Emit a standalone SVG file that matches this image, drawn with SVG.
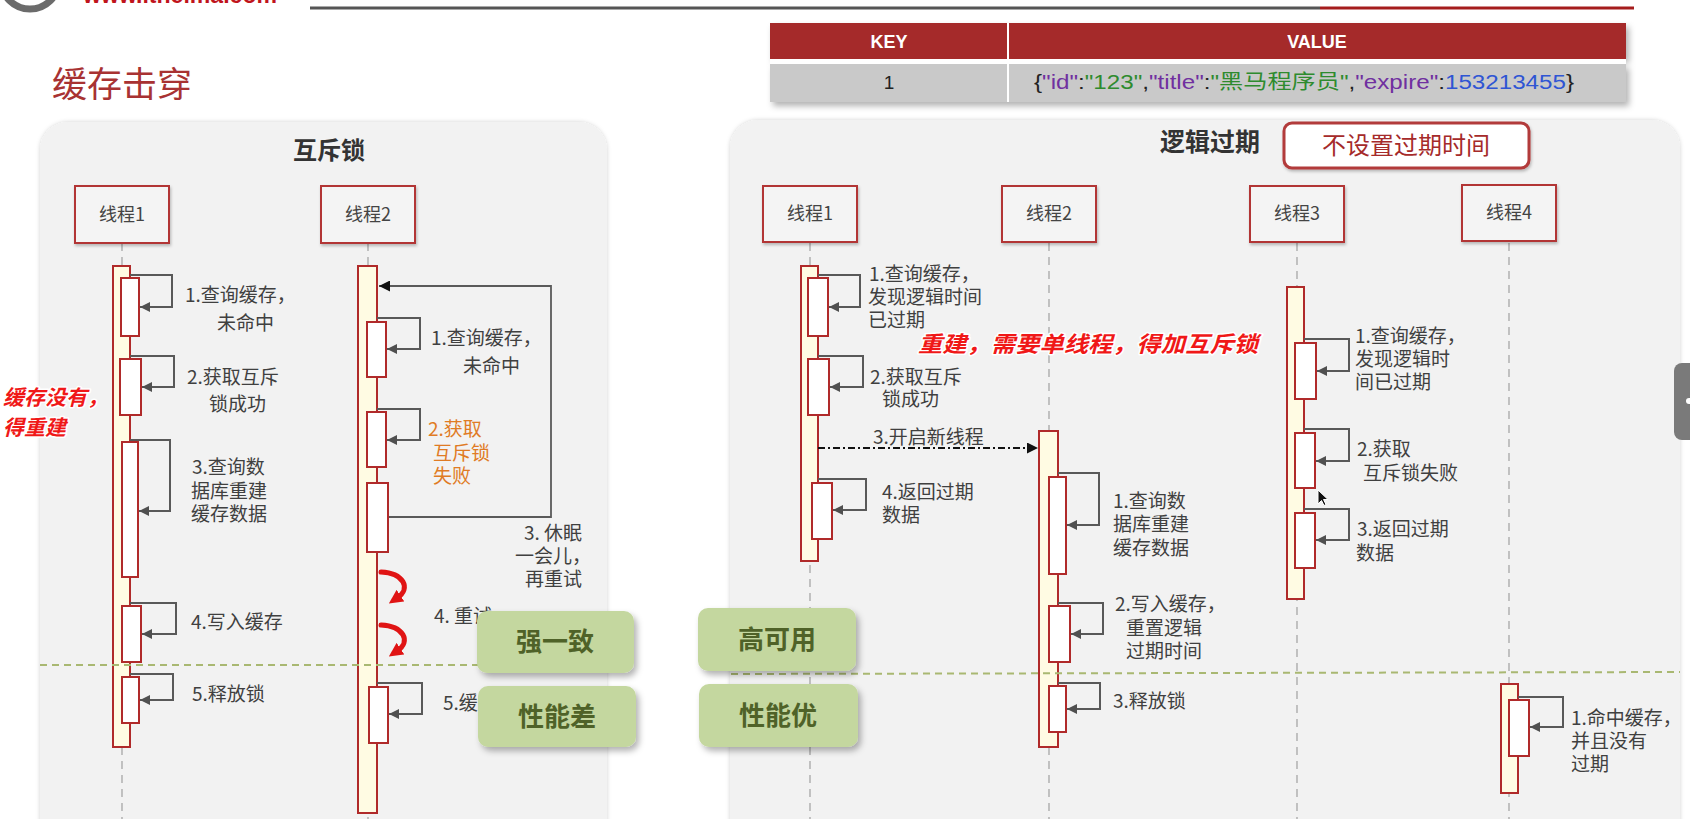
<svg xmlns="http://www.w3.org/2000/svg" width="1690" height="819" viewBox="0 0 1690 819">
<defs>
<style>
.cjk{font-family:"Noto Sans CJK SC","Noto Sans",sans-serif}
.lbl{font-family:"Noto Sans CJK SC","Noto Sans",sans-serif;font-size:19px;fill:#404040}
.org{fill:#e07b24}
.hot{font-family:"Noto Sans CJK SC",sans-serif;font-weight:bold;font-style:italic;fill:#f01818;stroke:#ffffff;stroke-width:3;paint-order:stroke;stroke-linejoin:round}
.head rect{fill:#f4f4f4;stroke:#b23434;stroke-width:2}
.head text{font-family:"Noto Sans CJK SC",sans-serif;font-size:18px;fill:#444;text-anchor:middle}
.act{fill:#fffbe3;stroke:#b02a2a;stroke-width:2}
.inner{fill:#ffffff;stroke:#b02a2a;stroke-width:2}
.life{stroke:#b4b4b4;stroke-width:1.6;stroke-dasharray:8 6;fill:none}
.self{fill:none;stroke:#595959;stroke-width:2;marker-end:url(#ah)}
.green{fill:#c4d79f}
.gtxt{font-family:"Noto Sans CJK SC",sans-serif;font-size:26px;font-weight:bold;fill:#4f6228;text-anchor:middle}
.gline{stroke:#a9b872;stroke-width:2;stroke-dasharray:7 5;fill:none}
.panel{fill:#f2f2f2}
.th{font-family:"Liberation Sans Narrow","Liberation Sans",sans-serif;font-weight:bold;font-size:18px;fill:#ffffff;text-anchor:middle}
</style>
<marker id="ah" viewBox="0 0 10 10" refX="10" refY="5" markerWidth="10" markerHeight="10" markerUnits="userSpaceOnUse" orient="auto"><path d="M0,0 L10,5 L0,10 z" fill="#505050"/></marker>
<marker id="ahb" viewBox="0 0 10 10" refX="10" refY="5" markerWidth="11" markerHeight="11" markerUnits="userSpaceOnUse" orient="auto"><path d="M0,0 L10,5 L0,10 z" fill="#111"/></marker>
<marker id="ahr" viewBox="0 0 10 10" refX="3" refY="5" markerWidth="14" markerHeight="14" markerUnits="userSpaceOnUse" orient="auto"><path d="M0,0 L10,5 L0,10 z" fill="#e01414"/></marker>
<filter id="sh" x="-10%" y="-10%" width="130%" height="140%"><feDropShadow dx="3" dy="4" stdDeviation="3" flood-color="#000" flood-opacity="0.3"/></filter>
<filter id="psh" x="-5%" y="-5%" width="110%" height="110%"><feDropShadow dx="0" dy="0" stdDeviation="2" flood-color="#000" flood-opacity="0.18"/></filter>
<filter id="hsh" x="-10%" y="-10%" width="130%" height="130%"><feDropShadow dx="1" dy="2" stdDeviation="1.5" flood-color="#000" flood-opacity="0.25"/></filter>
</defs>

<rect width="1690" height="819" fill="#ffffff"/>

<!-- header -->
<g id="header">
<circle cx="30" cy="-20" r="29" fill="none" stroke="#6b6b6b" stroke-width="7"/>
<text x="83" y="3" font-family="Liberation Sans,sans-serif" font-weight="bold" font-size="23" fill="#c0141c" textLength="194" lengthAdjust="spacingAndGlyphs">www.itheima.com</text>
<line x1="310" y1="8" x2="1320" y2="8" stroke="#555" stroke-width="3"/>
<line x1="1320" y1="8" x2="1634" y2="8" stroke="#a51c1c" stroke-width="3"/>
<text x="52" y="97" class="cjk" font-size="35" fill="#a83232">缓存击穿</text>
</g>

<!-- key/value table -->
<g id="kv-table">
<g filter="url(#sh)">
<rect x="770" y="23" width="856" height="36" fill="#a52a2a"/>
<rect x="770" y="64" width="856" height="38" fill="#c9c9c9"/>
</g>
<line x1="1008" y1="23" x2="1008" y2="102" stroke="#ffffff" stroke-width="2"/>
<line x1="770" y1="61.5" x2="1626" y2="61.5" stroke="#ffffff" stroke-width="5"/>
<text x="889" y="48" class="th">KEY</text>
<text x="1317" y="48" class="th">VALUE</text>
<text x="889" y="89" font-family="Liberation Sans Narrow,Liberation Sans,sans-serif" font-size="19" fill="#222" text-anchor="middle">1</text>
<text x="1034" y="89" font-family="Liberation Sans Narrow,Liberation Sans,Noto Sans CJK SC,sans-serif" font-size="20" fill="#222" textLength="540" lengthAdjust="spacingAndGlyphs">{<tspan fill="#7030a0">"id"</tspan>:<tspan fill="#2e8b2e">"123"</tspan>,<tspan fill="#7030a0">"title"</tspan>:<tspan fill="#2e8b2e">"黑马程序员"</tspan>,<tspan fill="#7030a0">"expire"</tspan>:<tspan fill="#2f55d4">153213455</tspan>}</text>
</g>

<!-- panels -->
<g id="panel-mutex">
<rect x="40" y="122" width="567" height="760" rx="28" class="panel" filter="url(#psh)"/>
<text x="329" y="159" class="cjk" font-size="24" font-weight="bold" fill="#333" text-anchor="middle">互斥锁</text>
</g>
<g id="panel-logic">
<rect x="730" y="120" width="950" height="760" rx="28" class="panel" filter="url(#psh)"/>
<text x="1210" y="151" class="cjk" font-size="25" font-weight="bold" fill="#333" text-anchor="middle">逻辑过期</text>
<g id="no-expire-tag">
<rect x="1284" y="123" width="245" height="45" rx="8" fill="#ffffff" stroke="#b23a3a" stroke-width="3" filter="url(#hsh)"/>
<text x="1406" y="154" class="cjk" font-size="24" fill="#a52a2a" text-anchor="middle">不设置过期时间</text>
</g>
</g>

<!-- lifelines -->
<g id="lifelines">
<line x1="122" y1="243" x2="122" y2="819" class="life"/>
<line x1="368" y1="243" x2="368" y2="819" class="life"/>
<line x1="810" y1="243" x2="810" y2="819" class="life"/>
<line x1="1049" y1="243" x2="1049" y2="819" class="life"/>
<line x1="1297" y1="243" x2="1297" y2="819" class="life"/>
<line x1="1509" y1="243" x2="1509" y2="819" class="life"/>
</g>

<!-- thread heads -->
<g id="m-thread1" class="head"><rect x="75" y="186" width="94" height="57" filter="url(#hsh)"/><text x="122" y="221">线程1</text></g>
<g id="m-thread2" class="head"><rect x="321" y="186" width="94" height="57" filter="url(#hsh)"/><text x="368" y="221">线程2</text></g>
<g id="l-thread1" class="head"><rect x="763" y="186" width="94" height="56" filter="url(#hsh)"/><text x="810" y="220">线程1</text></g>
<g id="l-thread2" class="head"><rect x="1002" y="186" width="94" height="56" filter="url(#hsh)"/><text x="1049" y="220">线程2</text></g>
<g id="l-thread3" class="head"><rect x="1250" y="186" width="94" height="56" filter="url(#hsh)"/><text x="1297" y="220">线程3</text></g>
<g id="l-thread4" class="head"><rect x="1462" y="185" width="94" height="56" filter="url(#hsh)"/><text x="1509" y="219">线程4</text></g>

<!-- activations -->
<g id="m-t1-acts">
<rect x="113" y="266" width="17" height="481" class="act"/>
<rect x="121" y="278" width="18" height="58" class="inner"/>
<rect x="120" y="359" width="21" height="56" class="inner"/>
<rect x="122" y="442" width="16" height="135" class="inner"/>
<rect x="122" y="606" width="19" height="56" class="inner"/>
<rect x="122" y="677" width="17" height="46" class="inner"/>
</g>
<g id="m-t2-acts">
<rect x="358" y="266" width="19" height="547" class="act"/>
<rect x="367" y="322" width="19" height="55" class="inner"/>
<rect x="367" y="412" width="19" height="55" class="inner"/>
<rect x="367" y="483" width="21" height="69" class="inner"/>
<rect x="369" y="687" width="19" height="56" class="inner"/>
</g>
<g id="l-t1-acts">
<rect x="801" y="266" width="17" height="295" class="act"/>
<rect x="808" y="278" width="20" height="58" class="inner"/>
<rect x="808" y="359" width="21" height="56" class="inner"/>
<rect x="812" y="483" width="20" height="56" class="inner"/>
</g>
<g id="l-t2-acts">
<rect x="1039" y="431" width="19" height="316" class="act"/>
<rect x="1049" y="477" width="17" height="97" class="inner"/>
<rect x="1049" y="606" width="21" height="56" class="inner"/>
<rect x="1049" y="686" width="17" height="46" class="inner"/>
</g>
<g id="l-t3-acts">
<rect x="1287" y="287" width="17" height="312" class="act"/>
<rect x="1295" y="343" width="21" height="56" class="inner"/>
<rect x="1295" y="433" width="20" height="55" class="inner"/>
<rect x="1295" y="513" width="20" height="55" class="inner"/>
</g>
<g id="l-t4-acts">
<rect x="1501" y="684" width="17" height="109" class="act"/>
<rect x="1509" y="700" width="20" height="56" class="inner"/>
</g>

<!-- connectors -->
<g id="connectors">
<path d="M130,275 H172 V307 H140" class="self"/>
<path d="M130,356 H174 V387 H142" class="self"/>
<path d="M130,440 H170 V511 H139" class="self"/>
<path d="M130,603 H176 V634 H142" class="self"/>
<path d="M130,674 H173 V700 H140" class="self"/>
<path d="M377,318 H420 V349 H387" class="self"/>
<path d="M377,409 H420 V440 H387" class="self"/>
<path d="M377,683 H422 V714 H389" class="self"/>
<path d="M389,517 H551 V286 H379" fill="none" stroke="#5a5a5a" stroke-width="1.8" marker-end="url(#ahb)"/>
<path d="M381,572 C403,573 412,588 397,598" fill="none" stroke="#e01414" stroke-width="5" stroke-linecap="round" marker-end="url(#ahr)"/>
<path d="M381,625 C403,626 412,641 397,651" fill="none" stroke="#e01414" stroke-width="5" stroke-linecap="round" marker-end="url(#ahr)"/>
<path d="M818,275 H860 V307 H829" class="self"/>
<path d="M818,356 H863 V387 H830" class="self"/>
<path d="M818,479 H866 V510 H833" class="self"/>
<path d="M818,448 H1038" fill="none" stroke="#111" stroke-width="2" stroke-dasharray="7 3 2 3" marker-end="url(#ahb)"/>
<path d="M1058,473 H1099 V525 H1067" class="self"/>
<path d="M1058,603 H1103 V634 H1071" class="self"/>
<path d="M1058,683 H1100 V709 H1067" class="self"/>
<path d="M1304,339 H1349 V371 H1317" class="self"/>
<path d="M1304,429 H1349 V461 H1316" class="self"/>
<path d="M1304,509 H1349 V540 H1316" class="self"/>
<path d="M1518,697 H1563 V727 H1530" class="self"/>
</g>

<!-- divider lines -->
<g id="dividers">
<line x1="40" y1="665" x2="478" y2="665" class="gline"/>
<line x1="731" y1="674" x2="1680" y2="672" class="gline"/>
</g>

<!-- labels -->
<g id="labels" class="lbl">
<text x="185" y="302">1.查询缓存，</text>
<text x="217" y="330">未命中</text>
<text x="187" y="384">2.获取互斥</text>
<text x="209" y="411">锁成功</text>
<text x="192" y="474">3.查询数</text>
<text x="191" y="498">据库重建</text>
<text x="191" y="521">缓存数据</text>
<text x="191" y="629">4.写入缓存</text>
<text x="192" y="701">5.释放锁</text>
<text x="431" y="345">1.查询缓存，</text>
<text x="463" y="373">未命中</text>
<text x="428" y="436" class="org">2.获取</text>
<text x="433" y="460" class="org">互斥锁</text>
<text x="433" y="483" class="org">失败</text>
<text x="524" y="540">3. 休眠</text>
<text x="515" y="563">一会儿，</text>
<text x="525" y="586">再重试</text>
<text x="434" y="623">4. 重试</text>
<text x="443" y="710">5.缓</text>
<text x="869" y="281">1.查询缓存，</text>
<text x="868" y="304">发现逻辑时间</text>
<text x="868" y="327">已过期</text>
<text x="870" y="384">2.获取互斥</text>
<text x="882" y="406">锁成功</text>
<text x="873" y="444">3.开启新线程</text>
<text x="882" y="499">4.返回过期</text>
<text x="882" y="522">数据</text>
<text x="1113" y="508">1.查询数</text>
<text x="1113" y="531">据库重建</text>
<text x="1113" y="555">缓存数据</text>
<text x="1115" y="611">2.写入缓存，</text>
<text x="1126" y="635">重置逻辑</text>
<text x="1126" y="658">过期时间</text>
<text x="1113" y="708">3.释放锁</text>
<text x="1355" y="343">1.查询缓存，</text>
<text x="1355" y="366">发现逻辑时</text>
<text x="1355" y="389">间已过期</text>
<text x="1357" y="456">2.获取</text>
<text x="1363" y="480">互斥锁失败</text>
<text x="1357" y="536">3.返回过期</text>
<text x="1356" y="560">数据</text>
<text x="1571" y="725">1.命中缓存，</text>
<text x="1571" y="748">并且没有</text>
<text x="1571" y="771">过期</text>
</g>

<g id="notes">
<text x="3" y="405" class="hot" font-size="21">缓存没有，</text>
<text x="3" y="435" class="hot" font-size="21">得重建</text>
<text x="918" y="352" class="hot" font-size="22" textLength="340" lengthAdjust="spacingAndGlyphs">重建，需要单线程，得加互斥锁</text>
</g>

<!-- summary boxes -->
<g id="box-strong"><rect x="477" y="611" width="157" height="62" rx="10" class="green" filter="url(#sh)"/><text x="555" y="651" class="gtxt">强一致</text></g>
<g id="box-slow"><rect x="478" y="686" width="158" height="61" rx="10" class="green" filter="url(#sh)"/><text x="557" y="726" class="gtxt">性能差</text></g>
<g id="box-avail"><rect x="698" y="608" width="158" height="63" rx="10" class="green" filter="url(#sh)"/><text x="777" y="649" class="gtxt">高可用</text></g>
<g id="box-fast"><rect x="699" y="684" width="159" height="63" rx="10" class="green" filter="url(#sh)"/><text x="778" y="725" class="gtxt">性能优</text></g>

<!-- screen chrome -->
<g id="scroll-handle">
<rect x="1674" y="363" width="24" height="77" rx="8" fill="#7a7a7a"/>
<circle cx="1689" cy="401" r="3" fill="#ffffff"/>
</g>
<g id="cursor">
<path d="M1318,490 L1318,504 L1321.5,500.5 L1324,505.5 L1326,504.5 L1323.5,499.5 L1328,499.5 Z" fill="#111" stroke="#fff" stroke-width="1"/>
</g>
</svg>
